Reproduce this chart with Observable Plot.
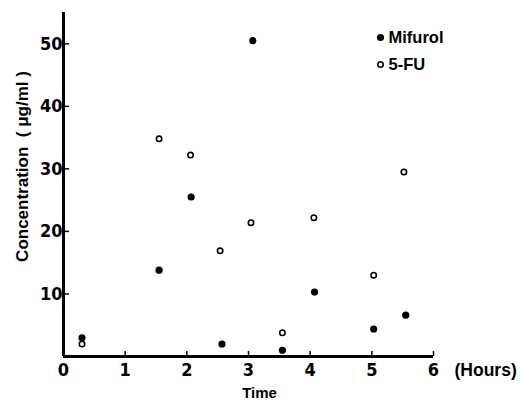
<!DOCTYPE html>
<html>
<head>
<meta charset="utf-8">
<script src="https://cdn.jsdelivr.net/npm/d3@7"></script>
<script src="https://cdn.jsdelivr.net/npm/@observablehq/plot@0.6"></script>
<style>
  html, body { margin: 0; padding: 0; background: #fff; }
  #chart svg { display: block; }
</style>
</head>
<body>
<div id="chart"></div>
<script>
// Data
const mifurolTime = [0.3, 1.55, 2.07, 2.57, 3.07, 3.55, 4.07, 5.03, 5.55];
const mifurolConc = [3.0, 13.8, 25.5, 2.0, 50.5, 1.0, 10.3, 4.4, 6.6];
const fuTime = [0.3, 1.55, 2.06, 2.54, 3.04, 3.55, 4.06, 5.03, 5.52];
const fuConc = [2.0, 34.8, 32.2, 16.9, 21.4, 3.8, 22.2, 13.0, 29.5];
const xTicks = [0, 1, 2, 3, 4, 5, 6];
const yTicks = [10, 20, 30, 40, 50];
const seriesNames = ["Mifurol", "5-FU"];

const mifurol = mifurolTime.map((t, i) => ({t, c: mifurolConc[i]}));
const fu = fuTime.map((t, i) => ({t, c: fuConc[i]}));

const numFont = "'Liberation Sans Narrow', 'DejaVu Sans Condensed', 'Arial Narrow', sans-serif";
const txtFont = "'Liberation Sans', Arial, sans-serif";

const chart = Plot.plot({
  width: 521,
  height: 405,
  marginLeft: 63,
  marginRight: 88,
  marginTop: 12,
  marginBottom: 49,
  style: {fontFamily: txtFont, color: "#000", background: "#fff"},
  x: {domain: [0, 6]},
  y: {domain: [0, 55]},
  marks: [
    // inward ticks
    Plot.axisX(xTicks.slice(1), {tickSize: -5, text: null, strokeWidth: 1.5, label: null}),
    Plot.axisY(yTicks, {tickSize: -6, text: null, strokeWidth: 1.5, label: null}),
    // tick labels
    Plot.axisX(xTicks, {tickSize: 0, tickPadding: 7, fontSize: 18, fontWeight: "bold", fontFamily: numFont, label: null}),
    Plot.axisY(yTicks, {tickSize: 0, tickPadding: 1, fontSize: 18, fontWeight: "bold", fontFamily: numFont, label: null}),
    // axis lines
    Plot.ruleX([0], {strokeWidth: 3}),
    Plot.ruleY([0], {strokeWidth: 3}),
    // data
    Plot.dot(mifurol, {x: "t", y: "c", r: 3.6, fill: "#000", stroke: "none"}),
    Plot.dot(fu, {x: "t", y: "c", r: 2.7, fill: "#fff", stroke: "#000", strokeWidth: 1.6}),
    // legend
    Plot.dot([seriesNames[0]], {frameAnchor: "top-left", dx: 317, dy: 25, r: 3.6, fill: "#000", stroke: "none"}),
    Plot.dot([seriesNames[1]], {frameAnchor: "top-left", dx: 317, dy: 52, r: 2.7, fill: "#fff", stroke: "#000", strokeWidth: 1.6}),
    Plot.text([seriesNames[0]], {text: d => d, frameAnchor: "top-left", dx: 325, dy: 25, textAnchor: "start", lineAnchor: "middle", fontSize: 16.5, fontWeight: "bold"}),
    Plot.text([seriesNames[1]], {text: d => d, frameAnchor: "top-left", dx: 325, dy: 52, textAnchor: "start", lineAnchor: "middle", fontSize: 16.5, fontWeight: "bold"}),
    // axis titles
    Plot.text(["(Hours)"], {text: d => d, frameAnchor: "bottom-right", dx: 21, dy: 14, textAnchor: "start", lineAnchor: "middle", fontSize: 17.5, fontWeight: "bold"}),
    Plot.text(["Time"], {text: d => d, frameAnchor: "bottom", dx: 11, dy: 37, textAnchor: "middle", lineAnchor: "middle", fontSize: 15, fontWeight: "bold"}),
    Plot.text(["Concentration  ( \u03bcg/ml )"], {text: d => d, frameAnchor: "left", dx: -41, dy: -18, rotate: -90, textAnchor: "middle", lineAnchor: "middle", fontSize: 17, fontWeight: "bold"})
  ]
});
document.getElementById("chart").appendChild(chart);
</script>
</body>
</html>
